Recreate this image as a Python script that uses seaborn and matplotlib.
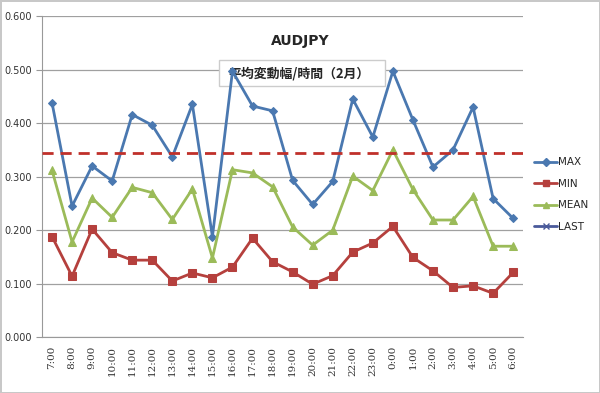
import pandas as pd
import seaborn as sns
import matplotlib.pyplot as plt
from matplotlib.lines import Line2D
from matplotlib.patches import Rectangle

# Données
hours = ['7:00', '8:00', '9:00', '10:00', '11:00', '12:00', '13:00', '14:00',
         '15:00', '16:00', '17:00', '18:00', '19:00', '20:00', '21:00', '22:00',
         '23:00', '0:00', '1:00', '2:00', '3:00', '4:00', '5:00', '6:00']
max_vals = [0.438, 0.245, 0.320, 0.292, 0.416, 0.396, 0.337, 0.435, 0.188, 0.497,
            0.432, 0.423, 0.293, 0.248, 0.291, 0.445, 0.374, 0.497, 0.406, 0.318,
            0.350, 0.430, 0.259, 0.222]
min_vals = [0.188, 0.114, 0.202, 0.158, 0.144, 0.144, 0.105, 0.120, 0.111, 0.131,
            0.185, 0.141, 0.122, 0.099, 0.115, 0.159, 0.176, 0.207, 0.149, 0.124,
            0.093, 0.096, 0.082, 0.121]
mean_vals = [0.312, 0.178, 0.260, 0.224, 0.280, 0.270, 0.220, 0.277, 0.148, 0.313,
             0.307, 0.281, 0.206, 0.172, 0.200, 0.301, 0.274, 0.350, 0.276, 0.219,
             0.219, 0.263, 0.170, 0.170]
ref_level = 0.345

sns.set_style('white')
plt.rcParams['font.family'] = ['Noto Sans CJK JP', 'DejaVu Sans']

df = pd.DataFrame({'pos': range(len(hours)), 'MAX': max_vals, 'MIN': min_vals, 'MEAN': mean_vals})

fig = plt.figure(figsize=(6.0, 3.93), dpi=100)
fig.patch.set_edgecolor('#c8c8c8')
fig.patch.set_linewidth(2)
ax = fig.add_axes([0.07, 0.142, 0.802, 0.817])

# encadré du sous-titre, derrière les courbes
ax.add_patch(Rectangle((0.365, 0.781), 0.277, 0.066, transform=fig.transFigure,
                       facecolor='white', edgecolor='#cccccc', lw=1, zorder=1.5,
                       clip_on=False))
ax.text(0.38, 0.812, '平均変動幅/時間（2月）', transform=fig.transFigure, ha='left',
        va='center', fontsize=9.3, fontweight='bold', zorder=1.6)

styles = {'MAX': ('#4a78b0', 'D', 4.5), 'MIN': ('#b5403d', 's', 5.5), 'MEAN': ('#9bbb59', '^', 5.5)}
for name, (col, mk, ms) in styles.items():
    sns.lineplot(data=df, x='pos', y=name, ax=ax, color=col, marker=mk, markersize=ms,
                 markeredgecolor=col, linewidth=2, label=name, legend=False, zorder=3)

ax.axhline(ref_level, color='#c0302a', linestyle=(0, (4, 2.5)), linewidth=2, zorder=3)

ax.set_ylim(0, 0.6)
ax.set_yticks([0, 0.1, 0.2, 0.3, 0.4, 0.5, 0.6])
ax.set_yticklabels([f'{v:.3f}' for v in ax.get_yticks()], fontsize=7, color='#333333',
                   family='DejaVu Sans')
ax.set_xlim(-0.5, len(hours) - 0.5)
ax.set_xticks(range(len(hours)))
ax.set_xticklabels(hours, rotation=90, fontsize=7.5, family='DejaVu Serif', color='#333333')
ax.set_xticks([i - 0.5 for i in range(len(hours) + 1)], minor=True)
ax.tick_params(axis='x', which='major', length=0, pad=6)
ax.tick_params(axis='x', which='minor', length=4, color='#999999')
ax.tick_params(axis='y', length=4, color='#999999', left=True)
ax.grid(axis='y', color='#a0a0a0', linewidth=0.9)
ax.set_axisbelow(True)
ax.set_xlabel('')
ax.set_ylabel('')
for side in ['top', 'right']:
    ax.spines[side].set_visible(False)
for side in ['left', 'bottom']:
    ax.spines[side].set_color('#999999')

fig.text(0.5, 0.895, 'AUDJPY', ha='center', va='center', fontsize=10, fontweight='bold',
         family='DejaVu Sans')

handles = [Line2D([], [], color='#4a78b0', marker='D', markersize=4, lw=2),
           Line2D([], [], color='#b5403d', marker='s', markersize=4, lw=2),
           Line2D([], [], color='#9bbb59', marker='^', markersize=4, lw=2),
           Line2D([], [], color='#4a5a9a', marker='x', markersize=4, lw=2)]
fig.legend(handles, ['MAX', 'MIN', 'MEAN', 'LAST'], loc='center left',
           bbox_to_anchor=(0.875, 0.505), frameon=False,
           handlelength=2.2, handletextpad=0.1, labelspacing=1.1,
           prop={'family': 'DejaVu Sans', 'size': 7.5})

plt.savefig('out.png', dpi=100, edgecolor=fig.get_edgecolor())
